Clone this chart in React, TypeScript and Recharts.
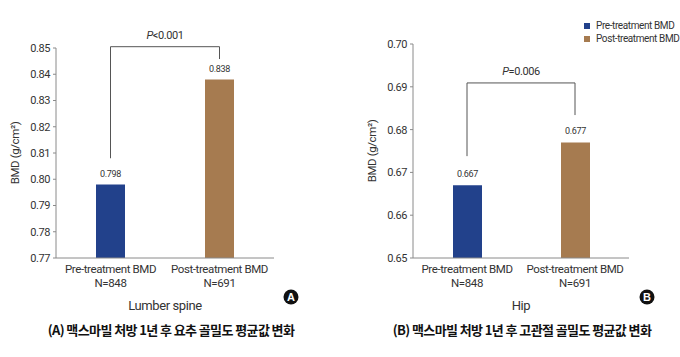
import { BarChart, Bar, XAxis, YAxis, Cell, LabelList, ReferenceLine } from 'recharts';

const categories = ['Pre-treatment BMD', 'Post-treatment BMD'];
const sampleSizes = ['N=848', 'N=691'];
const spineBmd = [0.798, 0.838];
const hipBmd = [0.667, 0.677];
const spineTicks = [0.77, 0.78, 0.79, 0.8, 0.81, 0.82, 0.83, 0.84, 0.85];
const hipTicks = [0.65, 0.66, 0.67, 0.68, 0.69, 0.7];
const barColors = ['#22418b', '#a67b50'];

// p-value brackets: [left leg bottom, top, right leg bottom]
const spineBracket = [0.808, 0.8505, 0.8458];
const hipBracket = [0.6738, 0.6909, 0.6834];
const spineP = ['P', '<0.001'];
const hipP = ['P', '=0.006'];

const FONT = 'Roboto, "Noto Sans", sans-serif';
const KFONT = '"Noto Sans CJK KR", "Noto Sans", sans-serif';
const AXIS = '#8a8a8a';
const TEXT = '#333';
const TIGHT = { letterSpacing: -0.4 };

const CategoryTick = ({ x, y, payload }: any) => {
  const i = categories.indexOf(payload.value);
  return (
    <text x={x} y={y} textAnchor="middle" fontSize={11.5} fill={TEXT} fontFamily={FONT} style={TIGHT}>
      <tspan x={x} dy={15}>{payload.value}</tspan>
      <tspan x={x} dy={14}>{sampleSizes[i]}</tspan>
    </text>
  );
};

const pLabel = (p: string[]) => (props: any) => {
  const { x, y, width } = props.viewBox;
  return (
    <text x={x + width / 2} y={y - 8} textAnchor="middle" fontSize={11} fill={TEXT} fontFamily={FONT} style={TIGHT}>
      <tspan fontStyle="italic">{p[0]}</tspan>
      <tspan>{p[1]}</tspan>
    </text>
  );
};

type PanelProps = {
  values: number[];
  ticks: number[];
  bracket: number[];
  p: string[];
  region: string;
  left: number;
  marginLeft: number;
  marginRight: number;
  marginTop: number;
};

const Panel = ({ values, ticks, bracket, p, region, left, marginLeft, marginRight, marginTop }: PanelProps) => {
  const data = categories.map((name, i) => ({ name, value: values[i] }));
  const [a, b] = categories;
  return (
    <div style={{ position: 'absolute', left, top: 0 }}>
      <BarChart
        width={340}
        height={320}
        data={data}
        barSize={29}
        margin={{ top: marginTop, right: marginRight, bottom: 10, left: marginLeft }}
      >
        <XAxis
          dataKey="name"
          height={52}
          stroke={AXIS}
          interval={0}
          tickLine={false}
          tickSize={0}
          tickMargin={0}
          tick={<CategoryTick />}
          label={{ value: region, position: 'insideBottom', offset: 0, fontSize: 13, fill: TEXT, fontFamily: FONT, style: TIGHT }}
        />
        <YAxis
          width={40}
          domain={[ticks[0], ticks[ticks.length - 1]]}
          ticks={ticks}
          interval={0}
          allowDataOverflow
          stroke={AXIS}
          tickSize={3}
          tickMargin={3}
          tickFormatter={(v: number) => v.toFixed(2)}
          tick={{ fontSize: 11, fill: TEXT, fontFamily: FONT, style: TIGHT }}
          label={{
            value: 'BMD (g/cm²)',
            angle: -90,
            position: 'insideLeft',
            offset: -1,
            style: { textAnchor: 'middle', fontSize: 11.5, fill: TEXT, fontFamily: FONT, letterSpacing: -0.4 },
          }}
        />
        <Bar dataKey="value" isAnimationActive={false}>
          {data.map((d, i) => (
            <Cell key={d.name} fill={barColors[i]} />
          ))}
          <LabelList
            dataKey="value"
            position="top"
            offset={8}
            formatter={(v: any) => Number(v).toFixed(3)}
            style={{ fontSize: 9, fill: TEXT, fontFamily: FONT, letterSpacing: -0.3 }}
          />
        </Bar>
        <ReferenceLine segment={[{ x: a, y: bracket[0] }, { x: a, y: bracket[1] }]} stroke="#555" ifOverflow="visible" />
        <ReferenceLine
          segment={[{ x: a, y: bracket[1] }, { x: b, y: bracket[1] }]}
          stroke="#555"
          ifOverflow="visible"
          label={pLabel(p)}
        />
        <ReferenceLine segment={[{ x: b, y: bracket[1] }, { x: b, y: bracket[2] }]} stroke="#555" ifOverflow="visible" />
      </BarChart>
    </div>
  );
};

const Badge = ({ x, y, letter }: { x: number; y: number; letter: string }) => (
  <svg style={{ position: 'absolute', left: x - 8, top: y - 8 }} width={16} height={16}>
    <circle cx={8} cy={8} r={7.5} fill="#111" />
    <text x={8} y={12} textAnchor="middle" fontSize={11} fontWeight="bold" fill="#fff" fontFamily="Arial, sans-serif">
      {letter}
    </text>
  </svg>
);

const captionStyle = {
  position: 'absolute' as const,
  top: 320,
  width: 340,
  textAlign: 'center' as const,
  fontFamily: KFONT,
  fontWeight: 700,
  fontSize: 13,
  color: '#111',
  letterSpacing: -0.6,
  whiteSpace: 'nowrap' as const,
};

export default function App() {
  return (
    <div style={{ position: 'absolute', left: 0, top: 0, width: 680, height: 357, background: '#fff', overflow: 'hidden' }}>
      <Panel values={spineBmd} ticks={spineTicks} bracket={spineBracket} p={spineP} region="Lumber spine"
        left={0} marginLeft={16} marginRight={66} marginTop={48} />
      <Panel values={hipBmd} ticks={hipTicks} bracket={hipBracket} p={hipP} region="Hip"
        left={340} marginLeft={33} marginRight={51} marginTop={44} />
      <div style={{ position: 'absolute', left: 584, top: 19, fontFamily: FONT, fontSize: 10, color: TEXT, whiteSpace: 'nowrap', letterSpacing: -0.4 }}>
        {categories.map((c, i) => (
          <div key={c} style={{ display: 'flex', alignItems: 'center', height: 13 }}>
            <span style={{ width: 6, height: 6, background: barColors[i], marginRight: 6 }} />
            {c}
          </div>
        ))}
      </div>
      <Badge x={291} y={297} letter="A" />
      <Badge x={647} y={297} letter="B" />
      <div style={{ ...captionStyle, left: 1 }}>(A) 맥스마빌 처방 1년 후 요추 골밀도 평균값 변화</div>
      <div style={{ ...captionStyle, left: 352 }}>(B) 맥스마빌 처방 1년 후 고관절 골밀도 평균값 변화</div>
    </div>
  );
}
